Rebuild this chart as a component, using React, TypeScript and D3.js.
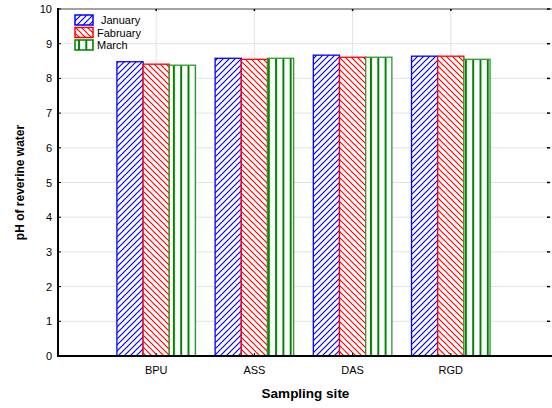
import React from "react";
import * as d3 from "d3";

const categories = ["BPU", "ASS", "DAS", "RGD"];
const seriesNames = ["January", "Fabruary", "March"];
const january = [8.48, 8.58, 8.67, 8.64];
const february = [8.41, 8.55, 8.61, 8.64];
const march = [8.38, 8.58, 8.61, 8.55];
const yTicks = [0, 1, 2, 3, 4, 5, 6, 7, 8, 9, 10];

const W = 552, H = 408;
const left = 58, right = 549, top = 9, bottom = 356;

export default function App() {
  const x = d3.scaleLinear().domain([0, categories.length + 1]).range([left, right]);
  const y = d3.scaleLinear().domain([0, 10]).range([bottom, top]);
  const step = x(1) - x(0);
  const groupW = step * 0.8;
  const inner = d3.scaleBand<number>().domain([0, 1, 2]).range([-groupW / 2, groupW / 2]).padding(0);
  const series = [january, february, march];
  const fills = ["url(#hatchJan)", "url(#hatchFeb)", "url(#hatchMar)"];
  const strokes = ["#0000ff", "#ff0000", "#2e9a2e"];
  const legendStrokes = ["#0000ff", "#ff0000", "#008000"];
  const font = "'Liberation Sans', Arial, sans-serif";

  return (
    <svg width={W} height={H} style={{ position: "absolute", left: 0, top: 0 }}>
      <defs>
        <pattern id="hatchJan" patternUnits="userSpaceOnUse" width="6" height="6">
          <rect width="6" height="6" fill="#fff" />
          <path d="M-1,1 l2,-2 M0,6 l6,-6 M5,7 l2,-2" stroke="#0000ff" strokeWidth="1.2" />
        </pattern>
        <pattern id="hatchFeb" patternUnits="userSpaceOnUse" width="6" height="6">
          <rect width="6" height="6" fill="#fff" />
          <path d="M-1,5 l2,2 M0,0 l6,6 M5,-1 l2,2" stroke="#ff0000" strokeWidth="1.2" />
        </pattern>
        <pattern id="hatchMar" patternUnits="userSpaceOnUse" width="7.3" height="10" x="0.5">
          <rect width="7.3" height="10" fill="#fff" />
          <rect x="4.5" y="0" width="2" height="10" fill="#008000" />
        </pattern>
      </defs>
      <rect width={W} height={H} fill="#fff" />
      {yTicks.map((t) => (
        <line key={"gy" + t} x1={left} x2={W} y1={y(t)} y2={y(t)} stroke="#e2e2e2" strokeWidth={1} />
      ))}
      {categories.map((c, i) => (
        <line key={"gx" + c} x1={x(i + 1)} x2={x(i + 1)} y1={top} y2={bottom} stroke="#e2e2e2" strokeWidth={1} />
      ))}
      <line x1={left} x2={W} y1={top} y2={top} stroke="#888" strokeWidth={1.5} />
      {categories.map((c, i) =>
        series.map((s, k) => {
          const x0 = x(i + 1) + (inner(k) as number);
          return (
            <rect
              key={c + k}
              x={x0}
              y={y(s[i])}
              width={inner.bandwidth()}
              height={y(0) - y(s[i])}
              fill={fills[k]}
              stroke={strokes[k]}
              strokeWidth={1.3}
            />
          );
        })
      )}
      <line x1={left} x2={left} y1={top - 1} y2={bottom + 1} stroke="#000" strokeWidth={2} />
      <line x1={left - 1} x2={W} y1={bottom} y2={bottom} stroke="#000" strokeWidth={2} />
      {yTicks.map((t) => (
        <g key={"ty" + t}>
          <line x1={left} x2={left + 3} y1={y(t)} y2={y(t)} stroke="#000" strokeWidth={1} />
          <line x1={right - 2} x2={right + 1} y1={y(t)} y2={y(t)} stroke="#000" strokeWidth={1.5} />
          <text x={left - 6} y={y(t) + 4} textAnchor="end" fontSize={11} fontFamily={font} fill="#000">
            {t}
          </text>
        </g>
      ))}
      {categories.map((c, i) => (
        <g key={"tx" + c}>
          <line x1={x(i + 1)} x2={x(i + 1)} y1={bottom} y2={bottom - 3} stroke="#000" strokeWidth={1} />
          <line x1={x(i + 1)} x2={x(i + 1)} y1={top} y2={top + 2} stroke="#000" strokeWidth={1.5} />
          <text x={x(i + 1)} y={374} textAnchor="middle" fontSize={11} fontFamily={font} fill="#000">
            {c}
          </text>
        </g>
      ))}
      <text x={(left + right) / 2 + 2} y={398} textAnchor="middle" fontSize={13.5} fontWeight="bold" fontFamily={font}>
        Sampling site
      </text>
      <text
        transform={`translate(24,${(top + bottom) / 2}) rotate(-90)`}
        textAnchor="middle"
        fontSize={12}
        fontWeight="bold"
        fontFamily={font}
      >
        pH of reverine water
      </text>
      {seriesNames.map((n, k) => (
        <g key={"lg" + n}>
          <rect x={75} y={15 + k * 12.5} width={18} height={10} fill={fills[k]} stroke={legendStrokes[k]} strokeWidth={1.5} />
          <text x={k === 0 ? 101 : 97} y={24 + k * 12.5} fontSize={11} fontFamily={font}>
            {n}
          </text>
        </g>
      ))}
    </svg>
  );
}
